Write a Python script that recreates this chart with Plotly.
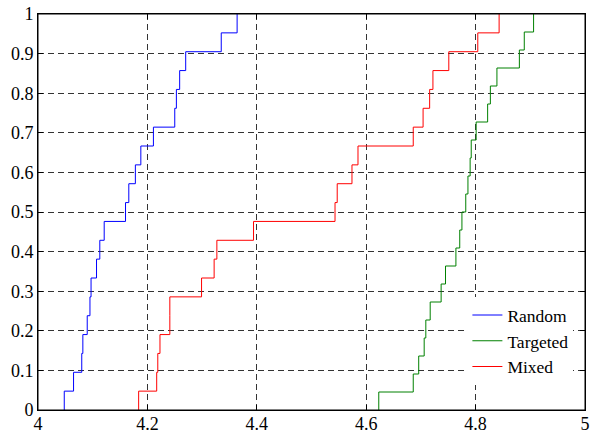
import plotly.graph_objects as go

# Sample values (sorted) read from the empirical CDF steps
random_vals = [4.048, 4.065, 4.080, 4.082, 4.090, 4.095, 4.097, 4.107, 4.113, 4.121,
               4.160, 4.166, 4.178, 4.188, 4.211, 4.250, 4.253, 4.259, 4.270, 4.335, 4.364]
targeted_vals = [4.623, 4.686, 4.696, 4.706, 4.709, 4.717, 4.737, 4.745, 4.764, 4.771, 4.775,
                 4.782, 4.786, 4.790, 4.792, 4.801, 4.822, 4.827, 4.839, 4.880, 4.889, 4.906]
mixed_vals = [4.184, 4.217, 4.219, 4.223, 4.241, 4.241, 4.299, 4.322, 4.327, 4.394,
              4.543, 4.547, 4.574, 4.585, 4.686, 4.704, 4.716, 4.722, 4.751, 4.804, 4.843]

series_names = ["Random", "Targeted", "Mixed"]
series_colors = ["#0000FF", "#008000", "#FF0000"]

x_tickvals = [4, 4.2, 4.4, 4.6, 4.8, 5]
x_ticktext = ["4", "4.2", "4.4", "4.6", "4.8", "5"]
y_tickvals = [0, 0.1, 0.2, 0.3, 0.4, 0.5, 0.6, 0.7, 0.8, 0.9, 1]
y_ticktext = ["0", "0.1", "0.2", "0.3", "0.4", "0.5", "0.6", "0.7", "0.8", "0.9", "1"]


def ecdf(vals):
    v = sorted(vals)
    n = len(v)
    xs = [v[0]] + v
    ys = [0.0] + [(k + 1) / n for k in range(n)]
    return xs, ys


fig = go.Figure()
for name, vals, col in zip(series_names, [random_vals, targeted_vals, mixed_vals], series_colors):
    xs, ys = ecdf(vals)
    fig.add_trace(go.Scatter(x=xs, y=ys, mode="lines", name=name,
                             line=dict(color=col, width=1, shape="hv")))

FONT = "Liberation Serif"

axis_common = dict(
    showline=True, linecolor="black", linewidth=1, mirror="ticks",
    ticks="inside", ticklen=5, tickcolor="black", tickwidth=1,
    showgrid=True, gridcolor="rgba(0,0,0,0.8)", gridwidth=1, griddash="6px,4px",
    zeroline=False, tickfont=dict(family=FONT, size=18, color="black"),
    ticklabeloverflow="allow",
)

fig.update_layout(
    width=590, height=431,
    margin=dict(l=38, r=5, t=14, b=21, autoexpand=False),
    paper_bgcolor="white", plot_bgcolor="white",
    font=dict(family=FONT, size=17.5, color="black"),
    xaxis=dict(range=[4, 5], tickvals=x_tickvals, ticktext=x_ticktext, ticklabelstandoff=-3,
               **axis_common),
    yaxis=dict(range=[0, 1], tickvals=y_tickvals, ticktext=y_ticktext, ticklabelstandoff=0,
               **axis_common),
    legend=dict(x=0.785, y=0.285, xanchor="left", yanchor="top",
                bgcolor="white", borderwidth=0,
                font=dict(family=FONT, size=17.5, color="black")),
    showlegend=True,
)

# white patch behind the legend area hiding grid lines (as in the reference)
fig.add_shape(type="rect", xref="paper", yref="paper", x0=0.755, x1=0.998, y0=0.09, y1=0.285,
              fillcolor="white", line=dict(width=0), layer="between")
# axes box outline
fig.add_shape(type="rect", xref="paper", yref="paper", x0=0, x1=1, y0=0, y1=1,
              line=dict(color="black", width=1), layer="above")

fig.write_html("out.html", config={"displayModeBar": False},
               post_script="document.body.style.margin='0px';")
